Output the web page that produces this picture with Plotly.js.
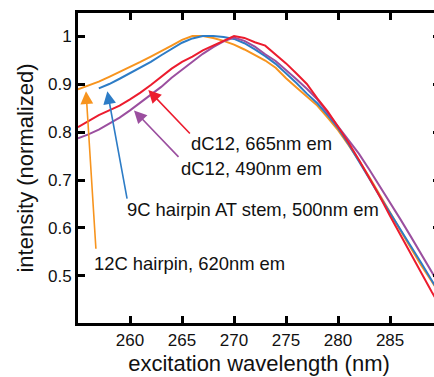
<!DOCTYPE html>
<html>
<head>
<meta charset="utf-8">
<script src="https://cdn.plot.ly/plotly-3.0.1.min.js"></script>
<style>
html,body{margin:0;padding:0;overflow:hidden;background:#fff;}
#chart{width:450px;height:377px;}
</style>
</head>
<body>
<div id="chart"></div>
<script>
// wavelengths (nm)
const wlFull = [255,256,257,258,259,260,261,262,263,264,265,266,267,268,269,270,271,272,273,274,275,276,277,278,279,280,281,282,283,284,285,286,287,288,289,290];
const wlBlue = [257,258,259,260,261,262,263,264,265,266,267,268,269,270,271,272,273,274,275,276,277,278,279,280,281,282,283,284,285,286,287,288,289,290];

// 12C hairpin, 620nm em
const orange12C = [0.889,0.897,0.905,0.915,0.925,0.935,0.946,0.957,0.968,0.980,0.992,1.000,1.000,0.996,0.990,0.982,0.972,0.960,0.949,0.934,0.912,0.893,0.874,0.855,0.830,0.804,0.773,0.741,0.706,0.670,0.632,0.595,0.558,0.522,0.489,0.455];
// 9C hairpin AT stem, 500nm em
const blue9C = [0.891,0.900,0.911,0.923,0.935,0.946,0.960,0.973,0.986,0.995,1.000,1.000,0.998,0.994,0.985,0.972,0.958,0.942,0.923,0.902,0.880,0.860,0.835,0.808,0.775,0.740,0.703,0.666,0.632,0.597,0.562,0.527,0.490,0.455];
// dC12, 665nm em
const redDC12 = [0.810,0.822,0.835,0.845,0.855,0.868,0.882,0.898,0.915,0.932,0.946,0.957,0.970,0.980,0.990,1.000,0.996,0.987,0.980,0.962,0.943,0.922,0.900,0.870,0.843,0.811,0.778,0.742,0.705,0.666,0.625,0.585,0.545,0.505,0.467,0.430];
// dC12, 490nm em
const purpleDC12 = [0.787,0.795,0.805,0.817,0.830,0.845,0.861,0.877,0.894,0.913,0.930,0.948,0.963,0.977,0.989,0.997,0.990,0.978,0.962,0.948,0.930,0.910,0.890,0.868,0.840,0.811,0.783,0.755,0.722,0.688,0.654,0.618,0.582,0.545,0.508,0.472];

const xTicks = [260,265,270,275,280,285,290];
const yTicks = [0.5,0.6,0.7,0.8,0.9,1];
const yTickText = ['0.5','0.6','0.7','0.8','0.9','1'];

const labels = ['12C hairpin, 620nm em','9C hairpin AT stem, 500nm em','dC12, 490nm em','dC12, 665nm em'];

const cOrange = '#f7941e', cBlue = '#2d7cc6', cPurple = '#9b4f9f', cRed = '#ec1c2e';

const traces = [
  {x: wlFull, y: orange12C, name: labels[0], line:{color:cOrange}},
  {x: wlBlue, y: blue9C, name: labels[1], line:{color:cBlue}},
  {x: wlFull, y: purpleDC12, name: labels[2], line:{color:cPurple}},
  {x: wlFull, y: redDC12, name: labels[3], line:{color:cRed}}
].map(t => Object.assign({type:'scatter', mode:'lines', hoverinfo:'skip'}, t, {line:Object.assign({width:2}, t.line)}));

const fnt = {family:'"Liberation Sans", Arial, sans-serif', color:'#111'};

function arrow(x, y, ax, ay, color){
  return {x:x, y:y, xref:'x', yref:'y', ax:ax, ay:ay, axref:'pixel', ayref:'pixel',
    text:'', showarrow:true, arrowhead:2, arrowsize:1.6, arrowwidth:1.6, arrowcolor:color, standoff:0, startstandoff:0};
}
function label(x, y, text){
  return {x:x, y:y, xref:'x', yref:'y', text:text, showarrow:false, xanchor:'left', yanchor:'middle',
    font:Object.assign({size:18.4}, fnt)};
}

const layout = {
  width:450, height:377,
  margin:{l:78, r:10, t:13, b:54},
  paper_bgcolor:'#fff', plot_bgcolor:'#fff',
  showlegend:false,
  font: fnt,
  xaxis:{
    range:[255, 289.8], tickvals:xTicks, ticks:'inside', ticklen:7, tickwidth:3, tickcolor:'#000',
    showline:true, linewidth:3, linecolor:'#000', mirror:'ticks', showgrid:false, zeroline:false,
    tickfont:Object.assign({size:17}, fnt),
    title:{text:'excitation wavelength (nm)', font:Object.assign({size:22}, fnt), standoff:7}
  },
  yaxis:{
    range:[0.402, 1.048], tickvals:yTicks, ticktext:yTickText, ticks:'inside', ticklen:7, tickwidth:3, tickcolor:'#000',
    showline:true, linewidth:3, linecolor:'#000', mirror:'ticks', showgrid:false, zeroline:false,
    tickfont:Object.assign({size:17}, fnt),
    title:{text:'intensity (normalized)', font:Object.assign({size:22}, fnt), standoff:9}
  },
  annotations:[
    arrow(255.77, 0.885, 10, 159, cOrange),
    arrow(257.82, 0.885, 20, 109, cBlue),
    arrow(260.38, 0.845, 46, 48, cPurple),
    arrow(261.76, 0.8875, 43, 45, cRed),
    label(256.3, 0.525, labels[0]),
    label(259.55, 0.6375, labels[1]),
    label(264.75, 0.725, labels[2]),
    label(265.7, 0.777, labels[3])
  ]
};

Plotly.newPlot('chart', traces, layout, {staticPlot:true, displayModeBar:false});
</script>
</body>
</html>
